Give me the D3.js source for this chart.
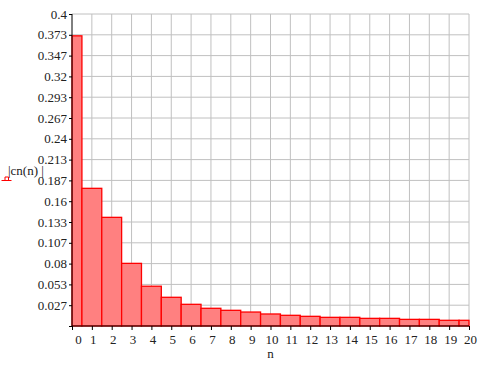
<!DOCTYPE html>
<html>
<head>
<meta charset="utf-8">
<script src="https://cdn.jsdelivr.net/npm/d3@7"></script>
<style>
  body { margin: 0; background: #fff; }
</style>
</head>
<body>
<div id="chart"></div>
<script>
// |cn(n)| for n = 0..20
const nValues = d3.range(0, 21);
const cnValues = [0.372, 0.1765, 0.1393, 0.0803, 0.051, 0.0368, 0.0278, 0.0227, 0.0201, 0.0179,
                  0.0154, 0.0137, 0.0124, 0.0111, 0.0111, 0.0098, 0.0098, 0.0085, 0.0085, 0.0073, 0.0073];
const yTicks = d3.range(0, 16).map(i => i * 0.4 / 15);
const yTickLabels = ['', '0.027', '0.053', '0.08', '0.107', '0.133', '0.16', '0.187', '0.213',
                     '0.24', '0.267', '0.293', '0.32', '0.347', '0.373', '0.4'];

const width = 484, height = 365;
const plotLeft = 72, plotRight = 469, plotTop = 14, plotBottom = 326;
const serif = '"Liberation Serif"';
const fontSize = '13px';

const svg = d3.select('#chart').append('svg')
    .attr('width', width)
    .attr('height', height);

const x = d3.scaleLinear().domain([0, 20]).range([plotLeft, plotRight]);
const y = d3.scaleLinear().domain([0, 0.4]).range([plotBottom, plotTop]);

// grid
svg.append('g')
    .selectAll('line')
    .data(nValues.slice(1))
    .join('line')
    .attr('x1', d => x(d)).attr('x2', d => x(d))
    .attr('y1', plotTop).attr('y2', plotBottom)
    .attr('stroke', '#c0c0c0');

svg.append('g')
    .selectAll('line')
    .data(yTicks.slice(1))
    .join('line')
    .attr('x1', plotLeft).attr('x2', plotRight)
    .attr('y1', d => y(d)).attr('y2', d => y(d))
    .attr('stroke', '#c0c0c0');

// bars (step style, centred on n, clipped to [0, 20])
svg.append('g')
    .selectAll('rect')
    .data(nValues)
    .join('rect')
    .attr('x', d => x(Math.max(0, d - 0.5)))
    .attr('width', d => x(Math.min(20, d + 0.5)) - x(Math.max(0, d - 0.5)))
    .attr('y', (d, i) => y(cnValues[i]))
    .attr('height', (d, i) => y(0) - y(cnValues[i]))
    .style('fill', '#ff8080')
    .style('stroke', '#ff0000')
    .attr('stroke-width', 1.3);

// Left axis
const yAxis = svg.append('g')
    .attr('transform', `translate(${plotLeft}, 0)`)
    .call(d3.axisLeft(y).tickValues(yTicks).tickFormat((d, i) => yTickLabels[i]).tickSize(3).tickPadding(2));
yAxis.selectAll('line').attr('stroke', '#000');
yAxis.select('.domain').attr('stroke', '#000').attr('d', `M0,${plotTop}V${plotBottom}`);
yAxis.selectAll('text')
    .style('font-family', serif).style('font-size', fontSize).style('fill', '#222');

// Bottom axis
const xAxis = svg.append('g')
    .attr('transform', `translate(0, ${plotBottom})`)
    .call(d3.axisBottom(x).tickValues(nValues).tickFormat(d3.format('d')).tickSize(4).tickPadding(5));
xAxis.selectAll('line').attr('stroke', '#000');
xAxis.select('.domain').attr('stroke', '#000').attr('d', `M${plotLeft},0H${plotRight}`);
xAxis.selectAll('text')
    .style('font-family', serif).style('font-size', fontSize).style('fill', '#222')
    .attr('dx', d => d === 0 ? 6 : 1);

// Axis labels
svg.append('text')
    .attr('x', x(10))
    .attr('y', 358)
    .attr('text-anchor', 'middle')
    .style('font-family', serif).style('font-size', fontSize).style('fill', '#222')
    .text('n');

svg.append('text')
    .attr('x', 8)
    .attr('y', 175)
    .style('font-family', serif).style('font-size', fontSize).style('fill', '#222')
    .style('white-space', 'pre')
    .text('|cn(n) |');

// small legend trace symbol
svg.append('path')
    .attr('d', 'M1.5,180.5 H11.5 M5,180.5 V177 H8.5 V180.5')
    .attr('fill', 'none')
    .attr('stroke', '#ff0000')
    .attr('stroke-width', 1);
</script>
</body>
</html>
